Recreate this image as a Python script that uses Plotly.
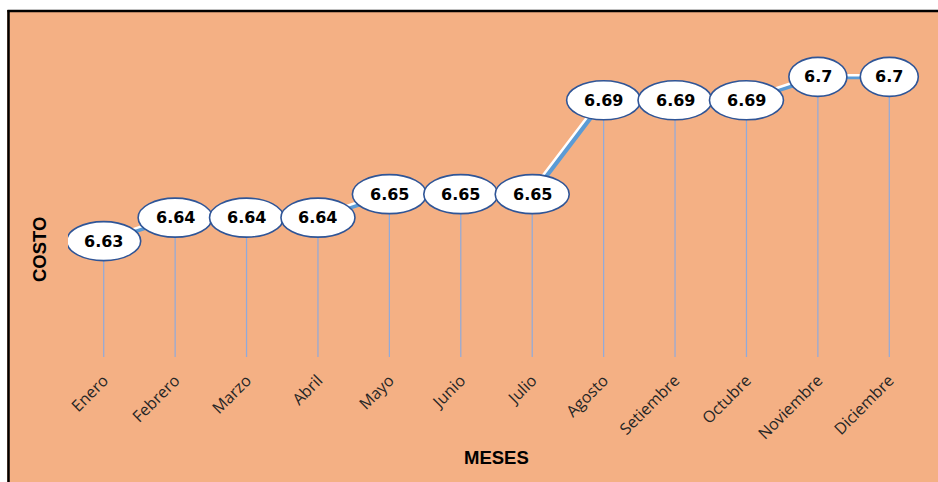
import plotly.graph_objects as go

# Monthly cost data
meses = ["Enero", "Febrero", "Marzo", "Abril", "Mayo", "Junio", "Julio",
         "Agosto", "Setiembre", "Octubre", "Noviembre", "Diciembre"]
costo = [6.63, 6.64, 6.64, 6.64, 6.65, 6.65, 6.65, 6.69, 6.69, 6.69, 6.7, 6.7]
etiquetas = [f"{v:g}" for v in costo]

W, H = 938, 482
L, R, T, B = 68, 13, 29, 125
PW, PH = W - L - R, H - T - B
Y_MIN, Y_MAX = 6.5806, 6.7204
px_per_unit_y = PH / (Y_MAX - Y_MIN)
px_per_cat = PW / len(meses)

ORANGE = "#F4B084"
BLUE = "#5B9BD5"
DROP = "#8FAADC"
EDGE = "#2F5597"

xs = list(range(len(meses)))


def fx(px):
    return (px - L) / PW


def fy(py):
    return (H - B - py) / PH


fig = go.Figure()

# drop lines from each point to the bottom of the plot
fig.add_trace(go.Scatter(
    x=xs, y=costo, mode="markers",
    marker=dict(size=1, color="rgba(0,0,0,0)"),
    error_y=dict(type="data", symmetric=False,
                 array=[0] * len(costo),
                 arrayminus=[v - Y_MIN for v in costo],
                 color=DROP, thickness=1.2, width=0),
    hoverinfo="skip", showlegend=False))

# main cost line
fig.add_trace(go.Scatter(
    x=xs, y=costo, mode="lines",
    line=dict(color=BLUE, width=5),
    showlegend=False))

# highlight line, slightly offset up-left
dx_units = 2.5 / px_per_cat
dy_units = 1.5 / px_per_unit_y
fig.add_trace(go.Scatter(
    x=xs, y=costo, mode="lines", xaxis="x2", yaxis="y2",
    line=dict(color="white", width=2.5),
    showlegend=False, hoverinfo="skip"))

shapes = []
annotations = []

# white frame edges and black border around the chart
shapes.append(dict(type="rect", xref="paper", yref="paper",
                   x0=fx(0), x1=fx(W), y0=fy(10), y1=fy(0),
                   fillcolor="white", line=dict(width=0), layer="below"))
shapes.append(dict(type="rect", xref="paper", yref="paper",
                   x0=fx(0), x1=fx(7), y0=fy(H), y1=fy(0),
                   fillcolor="white", line=dict(width=0), layer="below"))
shapes.append(dict(type="line", xref="paper", yref="paper",
                   x0=fx(7.5), x1=fx(W), y0=fy(11), y1=fy(11),
                   line=dict(color="black", width=2.5)))
shapes.append(dict(type="line", xref="paper", yref="paper",
                   x0=fx(8.5), x1=fx(8.5), y0=fy(10), y1=fy(H),
                   line=dict(color="black", width=2.5)))

# data label bubbles
for x, v, t in zip(xs, costo, etiquetas):
    w = 74 if len(t) == 4 else 58
    shapes.append(dict(type="circle", xref="x", yref="y",
                       xsizemode="pixel", ysizemode="pixel",
                       xanchor=x, yanchor=v,
                       x0=-w / 2, x1=w / 2, y0=-19.5, y1=19.5,
                       fillcolor="white", line=dict(color=EDGE, width=1.6),
                       layer="above"))
    annotations.append(dict(x=x, y=v, xref="x", yref="y", text=f"<b>{t}</b>",
                            showarrow=False,
                            font=dict(size=16, color="black",
                                      family="DejaVu Sans, sans-serif")))

# axis titles
title_font = dict(size=18.5, color="black",
                  family="Liberation Sans, Arial, sans-serif")
annotations.append(dict(x=fx(497), y=fy(457), xref="paper", yref="paper",
                        xanchor="center", yanchor="middle",
                        text="<b>MESES</b>", showarrow=False, font=title_font))
annotations.append(dict(x=fx(39), y=fy(250), xref="paper", yref="paper",
                        xanchor="center", yanchor="middle",
                        text="<b>COSTO</b>", showarrow=False, textangle=-90,
                        font=title_font))

fig.update_layout(
    width=W, height=H,
    margin=dict(l=L, r=R, t=T, b=B),
    paper_bgcolor=ORANGE, plot_bgcolor=ORANGE,
    showlegend=False,
    xaxis=dict(range=[-0.5, len(meses) - 0.5], tickmode="array",
               tickvals=xs, ticktext=meses, tickangle=-45,
               showgrid=False, zeroline=False, showline=False, ticks="",
               ticklabelstandoff=10,
               tickfont=dict(size=16, color="#262626",
                             family="Open Sans, sans-serif"),
               fixedrange=True),
    yaxis=dict(range=[Y_MIN, Y_MAX], showgrid=False, zeroline=False,
               showline=False, showticklabels=False, ticks="",
               fixedrange=True),
    xaxis2=dict(overlaying="x", range=[-0.5 + dx_units, len(meses) - 0.5 + dx_units],
                visible=False, fixedrange=True),
    yaxis2=dict(overlaying="y", range=[Y_MIN - dy_units, Y_MAX - dy_units],
                visible=False, fixedrange=True),
    shapes=shapes,
    annotations=annotations,
)

fig.write_html("out.html")
